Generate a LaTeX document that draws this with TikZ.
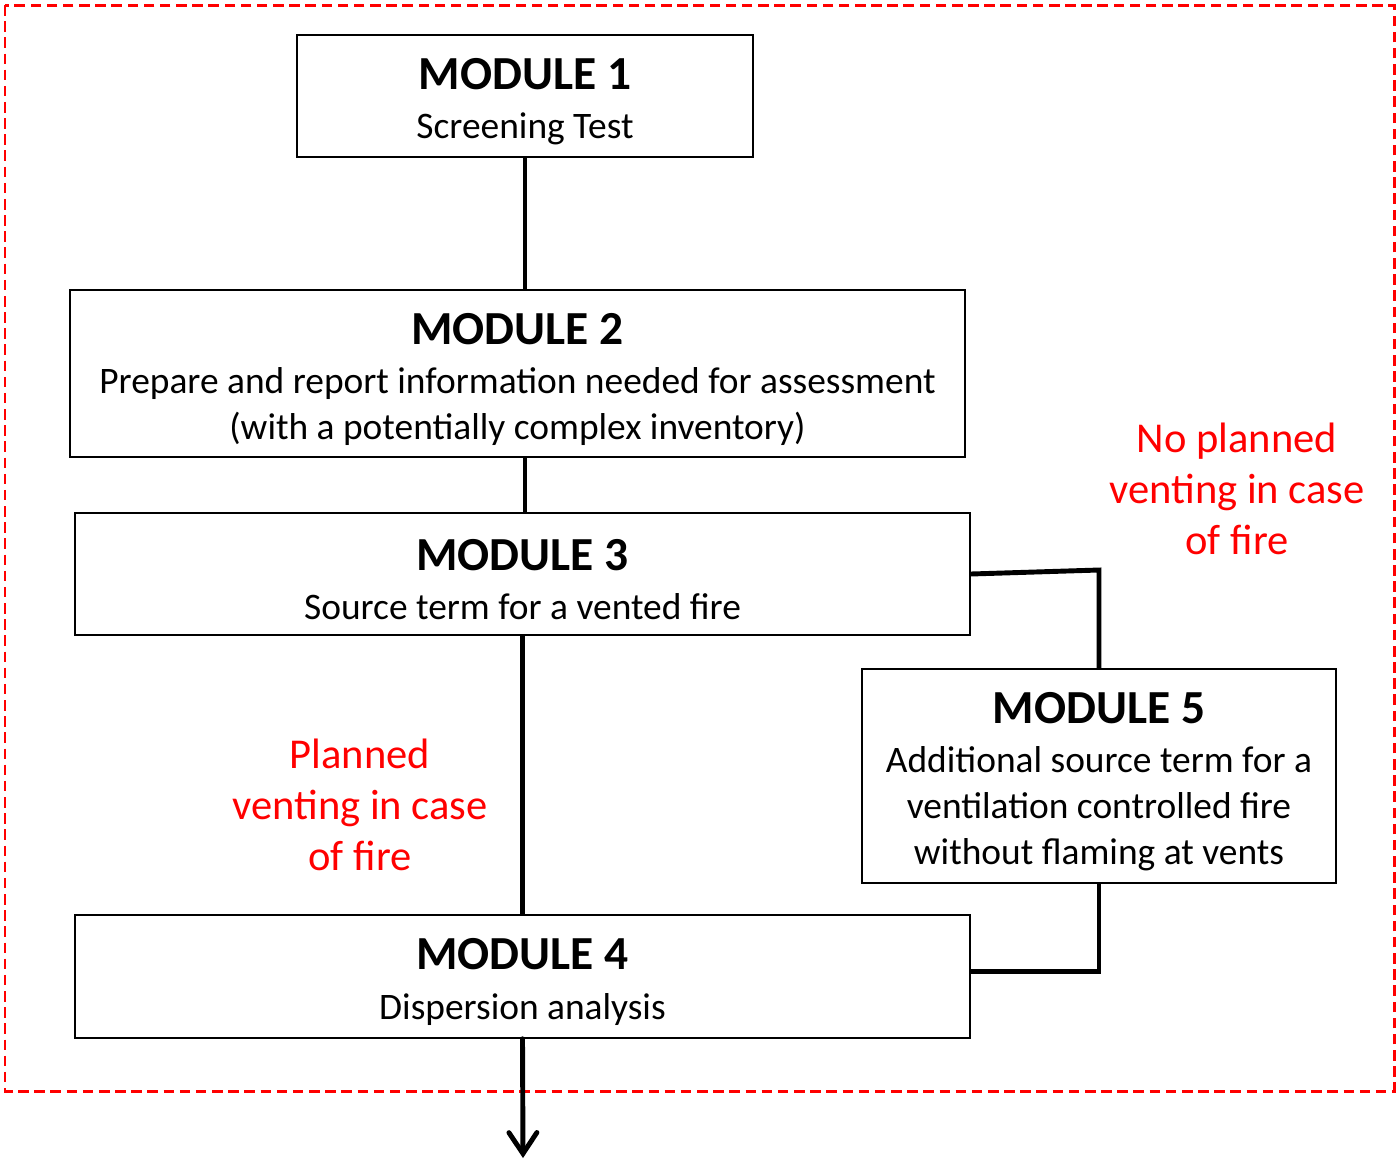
\documentclass[tikz,border=0pt]{standalone}
\usepackage{fontspec}
\setmainfont{Carlito}
\usepackage{tikz}
\usetikzlibrary{arrows.meta,positioning,calc}
\tikzset{modbox/.style={draw=black, line width=0.9pt, align=center, inner sep=0pt,
    font=\fontsize{21.3}{26}\selectfont},
  link/.style={line width=2.8pt},
  note/.style={text=red, align=center, font=\fontsize{24.2}{29}\selectfont}}
\newcommand{\modtitle}[1]{{\fontsize{27}{26}\selectfont\bfseries\rule{0pt}{24pt}MODULE #1}\\[2pt]}

\begin{document}
\begin{tikzpicture}[x=0.02cm, y=-0.02cm]
    \useasboundingbox (0,0) rectangle (1396,1161);
    \draw[red, line width=1.7pt, dash pattern=on 6pt off 3.2pt] (5,5) rectangle (1394,1091);
    \node[modbox, minimum width=9.12cm, minimum height=2.44cm] (m1) at (525,96)
        {\modtitle{1}Screening Test};
    \node[modbox, minimum width=17.9cm, minimum height=3.34cm] (m2) at (517.5,373.5)
        {\modtitle{2}Prepare and report information needed for assessment\\(with a potentially complex inventory)};
    \node[modbox, minimum width=17.9cm, minimum height=2.44cm] (m3) at (522.5,574)
        {\modtitle{3}Source term for a vented fire};
    \node[modbox, minimum width=17.9cm, minimum height=2.46cm] (m4) at (522.5,976.5)
        {\modtitle{4}Dispersion analysis};
    \node[modbox, minimum width=9.48cm, minimum height=4.28cm] (m5) at (1099,776)
        {\modtitle{5}Additional source term for a\\ventilation controlled fire\\without flaming at vents};
    \node[note] (planned) at (360,805) {Planned\\venting in case\\of fire};
    \node[note] (noplanned) at (1237,489) {No planned\\venting in case\\of fire};
    \coordinate (out) at (523,1158);
    \draw[link] (m1.south) -- (m1.south |- m2.north);
    \draw[link] (m2.south -| m1.south) -- (m1.south |- m3.north);
    \draw[link] (m3.south) -- (m4.north);
    \draw[link] (m3.east) -- ($(m5.north |- m3.east)+(0,-4)$) -- (m5.north);
    \draw[link] (m5.south) |- ($(m4.east)+(0,-5)$);
    \draw[link, line cap=round, -{Straight Barb[length=0.42cm, width=0.56cm, line cap=round]}] (m4.south) -- (out);
\end{tikzpicture}
\end{document}
